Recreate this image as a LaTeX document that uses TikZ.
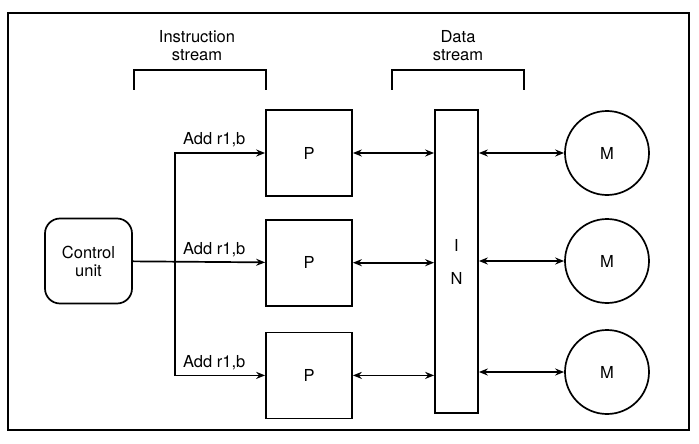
\documentclass[tikz,border=0pt]{standalone}
\usepackage{fontspec}
\setmainfont{TeX Gyre Heros}
\usetikzlibrary{arrows.meta, positioning}
\newcommand{\diagfont}{\fontsize{16.5}{18}\selectfont}
\tikzset{
  % Box styles
  procbox/.style={rectangle, draw, minimum width=86pt, minimum height=86pt, font=\diagfont},
  ctrlbox/.style={rectangle, rounded corners=15pt, draw, minimum width=87pt, minimum height=85pt, font=\diagfont, align=center},
  netbox/.style={rectangle, draw, minimum width=43pt, minimum height=303pt, font=\diagfont, align=center},
  membox/.style={circle, draw, minimum size=84pt, font=\diagfont},
  tag/.style={font=\diagfont, inner sep=0pt},
  heading/.style={font=\diagfont, align=center, inner sep=0pt},
  % Arrow styles
  sendarrow/.style={-{Stealth[length=9pt, width=7pt]}},
  duplex/.style={{Stealth[length=9pt, width=7pt]}-{Stealth[length=9pt, width=7pt]}}
}
\begin{document}
\begin{tikzpicture}[x=1pt, y=-1pt, line width=1.7pt]
  \useasboundingbox (0,0) rectangle (699,444);
  % Frame
  \draw (8,13) rectangle (689,430);

  % Control unit
  \node[ctrlbox] (cu) at (88.5,261) {Control\\unit};

  % Processors
  \node[procbox] (p1) at (309,153) {P};
  \node[procbox, below=22pt of p1] (p2) {P};
  \node[procbox, below=25pt of p2] (p3) {P};

  % Interconnection network
  \node[netbox] (in) at (456.5,261.5) {I\\[15pt]N};

  % Memories
  \node[membox] (m1) at (607,153) {M};
  \node[membox] (m2) at (607,261) {M};
  \node[membox] (m3) at (607,372) {M};

  % Instruction broadcast
  \coordinate (split) at (175,261);
  \draw[sendarrow] (cu) -- (p2);
  \draw[sendarrow] (split) |- (p1);
  \draw[sendarrow] (split) |- (p3);
  \node[tag, above left=5pt and 19pt of p1.west] (i1) {Add r1,b};
  \node[tag, above left=5pt and 19pt of p2.west] (i2) {Add r1,b};
  \node[tag, above left=5pt and 19pt of p3.west] (i3) {Add r1,b};

  % Data paths
  \draw[duplex] (p1.east) -- (in.west |- p1.east);
  \draw[duplex] (p2.east) -- (in.west |- p2.east);
  \draw[duplex] (p3.east) -- (in.west |- p3.east);
  \draw[duplex] (in.east |- m1.west) -- (m1.west);
  \draw[duplex] (in.east |- m2.west) -- (m2.west);
  \draw[duplex] (in.east |- m3.west) -- (m3.west);

  % Stream brackets
  \node[heading] (istream) at (197,46) {Instruction\\stream};
  \draw (134,90) -- (134,70) -- (266,70) -- (266,90);
  \node[heading] (dstream) at (458,46) {Data\\stream};
  \draw (392,90) -- (392,70) -- (524,70) -- (524,90);
\end{tikzpicture}
\end{document}
